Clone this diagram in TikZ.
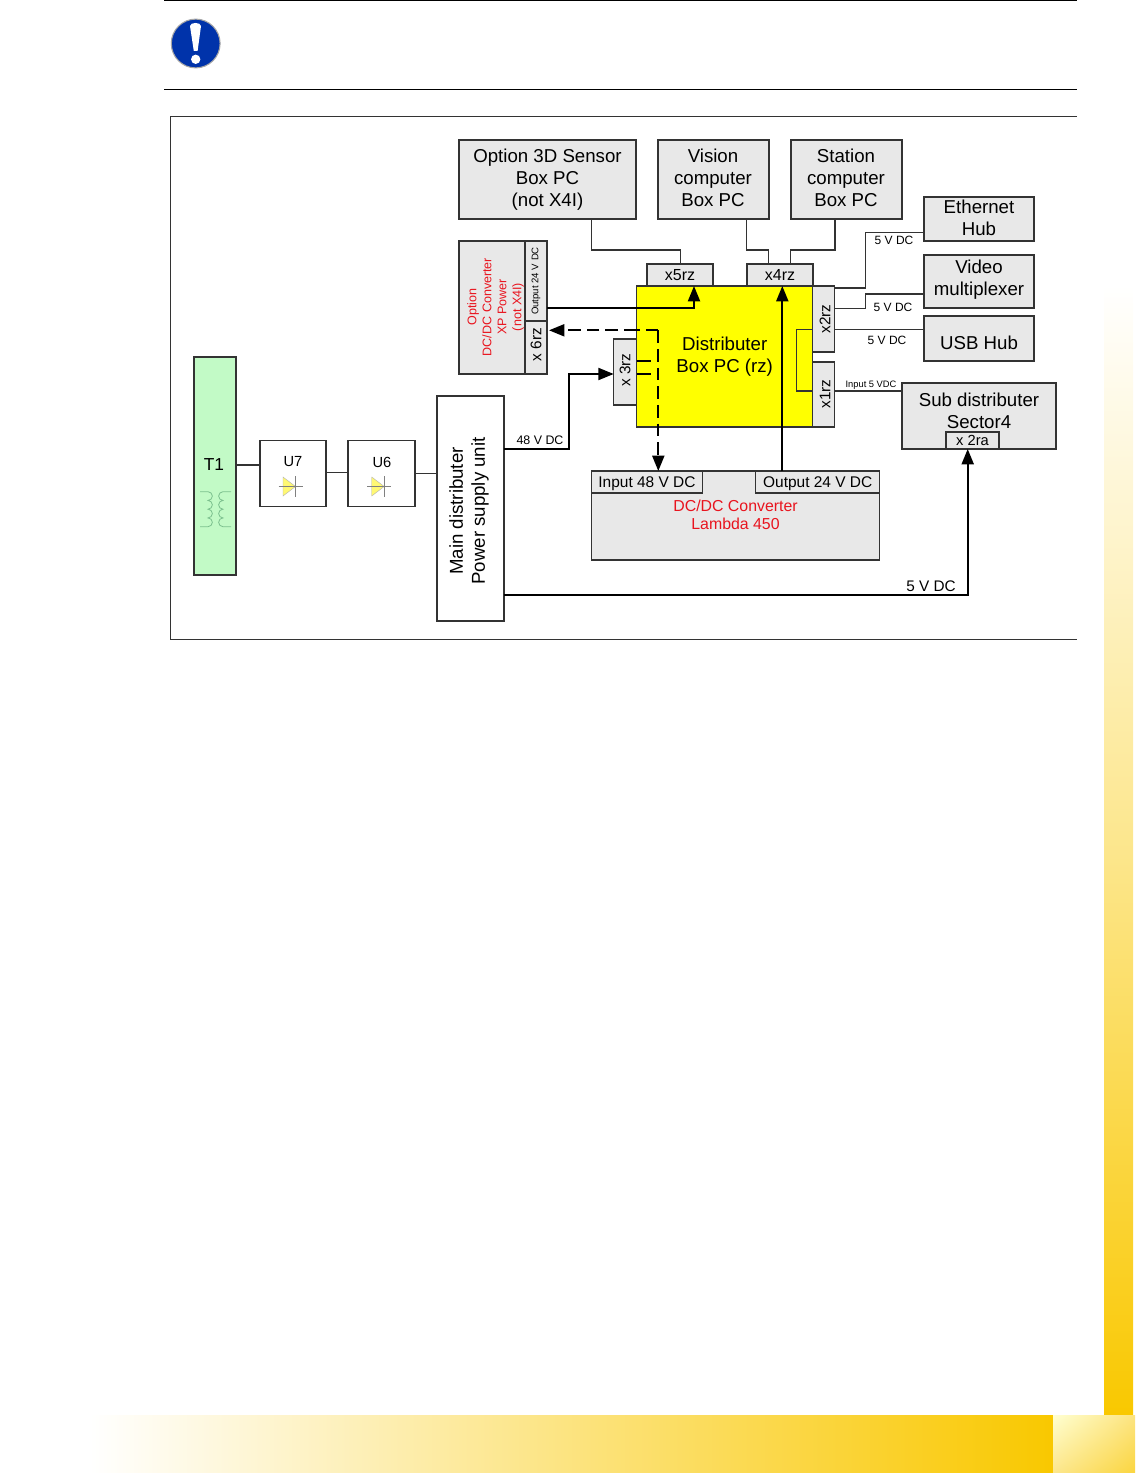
\documentclass[tikz,border=0pt]{standalone}
\usepackage{fontspec}
\setmainfont{Liberation Sans}
\usetikzlibrary{arrows.meta,shadings}
\definecolor{boxgray}{HTML}{E8E8E8}
\definecolor{linegray}{HTML}{333333}
\definecolor{labelred}{HTML}{E8141E}
\definecolor{trafogreen}{HTML}{C2FAC6}
\definecolor{coilgreen}{HTML}{7CC08E}
\definecolor{boxyellow}{HTML}{FFFF00}
\definecolor{iconblue}{HTML}{0033AA}
\definecolor{bandgold}{HTML}{F9C800}
\tikzset{
    wh/.style 2 args={minimum width=#1*0.75pt,minimum height=#2*0.75pt},
    plainbox/.style={draw=linegray,line width=1.1pt,outer sep=0pt,anchor=north west,inner sep=0pt,align=center,
                     font=\fontsize{14}{16.5}\selectfont},
    graybox/.style={plainbox,fill=boxgray},
    portfont/.style={font=\fontsize{12}{14}\selectfont},
    txt/.style={inner sep=0pt,align=center,font=\fontsize{14}{16.5}\selectfont},
    porttxt/.style={inner sep=0pt,rotate=90,font=\fontsize{11.5}{14}\selectfont},
    voltage/.style={inner sep=0pt,font=\fontsize{9}{11}\selectfont},
    wire/.style={draw=linegray,line width=1pt},
    power/.style={draw=black,line width=1.5pt,-{Triangle[length=11.5pt,width=9pt]}},
    stub/.style={draw=black,line width=1.5pt},
    dashline/.style={draw=black,line width=1.5pt,dash pattern=on 9.5pt off 4.5pt},
}
\begin{document}
\begin{tikzpicture}[x=0.75pt,y=-0.75pt]
    \useasboundingbox (0,0) rectangle (1135,1473);

    % page decoration
    \shade[top color=white,bottom color=bandgold,middle color=bandgold!45] (1104,285) rectangle (1133,1417);
    \shade[left color=white,right color=bandgold] (90,1415) rectangle (1053,1473);
    \shade[upper left=yellow!18,upper right=bandgold!50,lower left=bandgold!45,lower right=bandgold!75] (1053,1415) rectangle (1135,1473);

    % note head
    \draw[line width=0.9pt] (164,0.7)--(1077,0.7);
    \draw[line width=0.75pt] (164,90)--(1077,90);
    \draw[fill=iconblue,draw=gray!70,line width=0.8pt] (195.7,43.5) circle (18.3pt);
    \fill[white] (190,26) .. controls (190,22) and (201,22) .. (201,26) -- (197.6,51) -- (193.8,51) -- cycle;
    \fill[white] (195.7,59.3) circle (3.5pt);
    \draw[line width=0.7pt,draw=linegray] (1077,116)--(170,116)--(170,639)--(1077,639);

    % boxes
    \node[graybox,wh={177}{79}] (sensor) at (459,140) {Option 3D Sensor\\Box PC\\(not X4I)};
    \node[graybox,wh={111}{79}] (vision) at (658,140) {};
    \node[txt] (visiontxt) at (713,178) {Vision\\computer\\Box PC};
    \node[graybox,wh={111}{79}] (station) at (791,140) {};
    \node[txt] (stationtxt) at (846,178) {Station\\computer\\Box PC};
    \node[graybox,wh={110}{44}] (ethernet) at (924,197) {};
    \node[txt] (ethernettxt) at (979,218) {Ethernet\\Hub};
    \node[graybox,wh={110}{53}] (video) at (924,255) {};
    \node[txt] (videotxt) at (979,280) {Video\\multiplexer};
    \node[graybox,wh={110}{45}] (usb) at (924,316) {};
    \node[txt] (usbtxt) at (979,343) {USB Hub};
    \node[graybox,wh={154}{66}] (sub) at (902,383) {};
    \node[txt] (subtxt) at (979,410.5) {Sub distributer\\Sector4};
    \node[graybox,wh={53}{17},font=\fontsize{11}{13}\selectfont] (x2ra) at (946,432) {x 2ra};

    \node[plainbox,fill=boxyellow,wh={176}{141}] (distributer) at (636.7,286) {Distributer\\Box PC (rz)};
    \node[graybox,portfont,wh={66}{22}] (x5rz) at (647,264) {x5rz};
    \node[graybox,portfont,wh={66}{22}] (x4rz) at (747,264) {x4rz};
    \node[graybox,wh={22}{66}] (x2rz) at (812.7,286) {};
    \node[porttxt] (x2txt) at (825,319) {x2rz};
    \node[graybox,wh={22}{65}] (x1rz) at (812.7,362) {};
    \node[porttxt] (x1txt) at (825,394) {x1rz};
    \node[graybox,wh={23}{66}] (x3rz) at (613.7,339) {};
    \node[porttxt] (x3txt) at (625,370) {x 3rz};

    \node[graybox,wh={66}{133}] (option) at (459,241) {};
    \node[inner sep=0pt,rotate=90,align=center,text=labelred,font=\fontsize{9.4}{11.25}\selectfont] (optiontxt) at (495.5,307) {Option\\DC/DC Converter\\XP Power\\(not X4I)};
    \node[graybox,wh={22}{80}] (output6) at (525,241) {};
    \node[inner sep=0pt,rotate=90,font=\fontsize{7.2}{9}\selectfont] (outputtxt) at (536,281) {Output 24 V DC};
    \node[graybox,wh={22}{53}] (x6rz) at (525,321) {};
    \node[porttxt] (x6txt) at (536,344.5) {x 6rz};

    \node[graybox,wh={288}{89}] (lambda) at (591.5,471) {};
    \node[inner sep=0pt,align=center,text=labelred,font=\fontsize{11.9}{13.5}\selectfont] (lambdatxt) at (735.5,515) {DC/DC Converter\\Lambda 450};
    \node[graybox,wh={111}{22}] (input48) at (591.5,471) {};
    \node[inner sep=0pt,font=\fontsize{11.6}{14}\selectfont] (input48txt) at (647,483.5) {Input 48 V DC};
    \node[graybox,wh={124}{22}] (output24) at (755.7,471) {};
    \node[inner sep=0pt,font=\fontsize{11.6}{14}\selectfont] (output24txt) at (817.7,483.5) {Output 24 V DC};

    \node[plainbox,fill=trafogreen,wh={42}{218}] (trafo) at (194,357) {};
    \node[txt,font=\fontsize{13}{15}\selectfont] (t1txt) at (214,465) {T1};
    \node[plainbox,fill=white,wh={66}{66}] (u7) at (260,440.5) {};
    \node[inner sep=0pt,font=\fontsize{11}{13}\selectfont] (u7txt) at (293,462) {U7};
    \node[plainbox,fill=white,wh={67}{66}] (u6) at (348,440.5) {};
    \node[inner sep=0pt,font=\fontsize{11}{13}\selectfont] (u6txt) at (382,462) {U6};
    \node[plainbox,fill=white,wh={67}{225}] (main) at (437,396) {};
    \node[txt,rotate=90] (maintxt) at (469,511) {Main distributer\\Power supply unit};

    % transformer and diode symbols
    \foreach \s/\xa/\ea in {1/200/-90,-1/231/270}{
        \draw[coilgreen,line width=0.6pt] (\xa,491.7)--(\xa+\s*8,491.7)
            arc[start angle=90,end angle=\ea,radius=3.28pt]
            arc[start angle=90,end angle=\ea,radius=3.28pt]
            arc[start angle=90,end angle=\ea,radius=3.28pt]
            arc[start angle=90,end angle=\ea,radius=3.28pt]--(\xa,526.7);
    }
    \foreach \xd in {283,371.7}{
        \fill[yellow!55!white,draw=gray!60,line width=0.3pt] (\xd,477)--(\xd+12.5,486.5)--(\xd,496)--cycle;
        \draw[gray,line width=0.4pt] (\xd-4.5,486.5)--(\xd+19.5,486.5);
        \draw[gray,line width=0.5pt] (\xd+12.5,476)--(\xd+12.5,497);
    }

    % thin wires
    \coordinate (tap5) at (591.7,250);
    \coordinate (in5) at (680.7,264);
    \coordinate (tapvis) at (746.7,250);
    \coordinate (invis) at (768.7,264);
    \coordinate (tapsta) at (835,250);
    \coordinate (insta) at (790.7,264);
    \draw[wire] (tap5 |- sensor.south)--(tap5)-|(in5);
    \draw[wire] (tapvis |- vision.south)--(tapvis)-|(invis);
    \draw[wire] (tapsta |- station.south)--(tapsta)-|(insta);

    \coordinate (ethout) at (835,288);
    \coordinate (ethmid) at (865.7,232.3);
    \coordinate (vidout) at (835,308.7);
    \coordinate (vidmid) at (865.7,294);
    \coordinate (usbout) at (924,329.7);
    \coordinate (loop) at (796.7,391);
    \draw[wire] (ethout)-|(ethmid)--(ethmid -| ethernet.west);
    \draw[wire] (vidout)-|(vidmid)--(vidmid -| video.west);
    \draw[wire] (usbout)--(usbout -| x2rz.east);
    \draw[wire] (usbout -| x2rz.west)-|(loop)--(loop -| x1rz.west);
    \draw[wire] (loop -| x1rz.east)--(loop -| sub.west);

    \draw[wire] (trafo.east |- t1txt)--(u7.west |- t1txt);
    \coordinate (u7out) at (326,472.3);
    \draw[wire] (u7out)--(u7out -| u6.west);
    \coordinate (u6out) at (414.7,473.7);
    \draw[wire] (u6out)--(u6out -| main.west);

    % power lines
    \coordinate (out48) at (503.7,449);
    \coordinate (up48) at (569.3,374);
    \draw[power] (out48)-|(up48)--(x3rz.west |- up48);
    \coordinate (out5) at (503.7,594.7);
    \coordinate (in2ra) at (967.7,449);
    \draw[power] (out5)-|(in2ra);
    \coordinate (out24x) at (782.3,471);
    \coordinate (in24x) at (782.3,286);
    \draw[power] (out24x)--(in24x);
    \coordinate (xpout) at (547,307.7);
    \coordinate (xpin) at (694,286);
    \draw[power] (xpout)-|(xpin);

    \coordinate (dashcorner) at (658.3,330.3);
    \draw[dashline] (dashcorner)--(x3rz.north east |- dashcorner);
    \draw[dashline,-{Triangle[length=11.5pt,width=9pt]}] (dashcorner -| x3rz.north east)--(549,330.3);
    \draw[dashline,-{Triangle[length=11.5pt,width=9pt]}] (dashcorner)--(dashcorner |- lambda.north);
    \coordinate (stuba) at (650.7,360.7);
    \coordinate (stubb) at (650.7,374);
    \draw[stub] (stuba -| distributer.west)--(stuba);
    \draw[stub] (stubb -| distributer.west)--(stubb);

    % voltage labels
    \node[voltage] (v5eth) at (894,240.5) {5 V DC};
    \node[voltage] (v5vid) at (893,307) {5 V DC};
    \node[voltage] (v5usb) at (887,340) {5 V DC};
    \node[voltage,font=\fontsize{7}{9}\selectfont] (v5in) at (871,385) {Input 5 VDC};
    \node[voltage,font=\fontsize{9.3}{11}\selectfont] (v48) at (540,440) {48 V DC};
    \node[voltage,font=\fontsize{11.5}{14}\selectfont] (v5sub) at (931,586) {5 V DC};
\end{tikzpicture}
\end{document}
